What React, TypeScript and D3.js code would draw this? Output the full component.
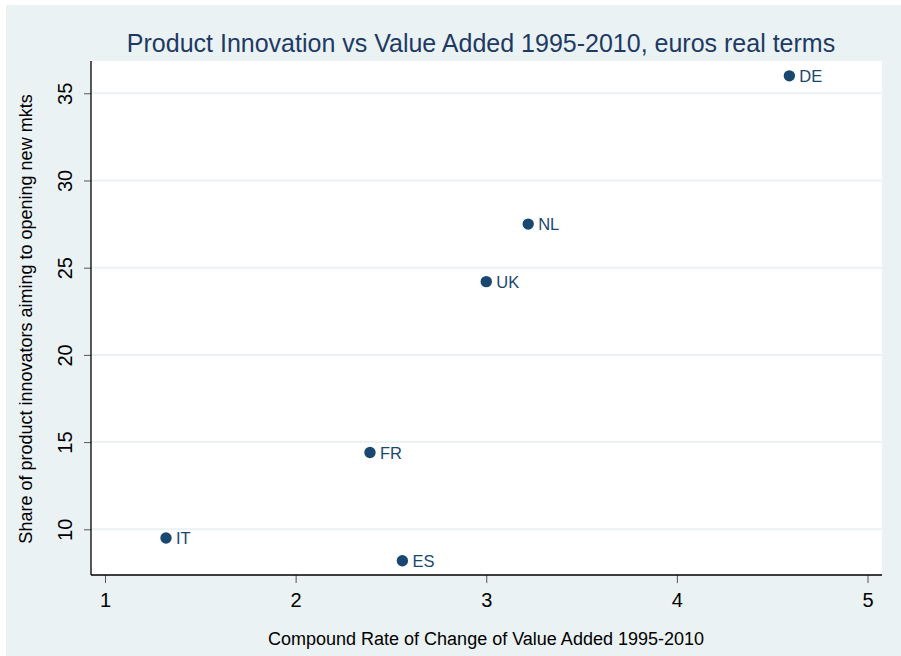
import React, { useEffect, useRef } from "react";
import * as d3 from "d3";

const countries = ["DE", "NL", "UK", "FR", "IT", "ES"];
const valueAdded = [4.59, 3.22, 3.0, 2.39, 1.32, 2.56];
const shareNewMkts = [36.0, 27.5, 24.2, 14.4, 9.5, 8.2];
const xTicks = [1, 2, 3, 4, 5];
const yTicks = [10, 15, 20, 25, 30, 35];

export default function App() {
  const ref = useRef<SVGSVGElement>(null);
  const W = 901;
  const H = 656;
  const plot = { left: 91, top: 61, right: 882, bottom: 575 };

  useEffect(() => {
    const svg = d3.select(ref.current).html(null);

    const x = d3.scaleLinear().domain([0.9265, 5.076]).range([plot.left, plot.right]);
    const y = d3.scaleLinear().domain([7.38, 36.85]).range([plot.bottom, plot.top]);

    svg.append("rect").attr("x", 0).attr("y", 0).attr("width", W).attr("height", H).attr("fill", "#ffffff");
    svg.append("rect").attr("x", 6).attr("y", 5).attr("width", W - 6).attr("height", H - 5).attr("fill", "#eaf2f3");
    svg
      .append("rect")
      .attr("x", plot.left)
      .attr("y", plot.top)
      .attr("width", plot.right - plot.left)
      .attr("height", plot.bottom - plot.top)
      .attr("fill", "#ffffff");

    // grid lines
    svg
      .append("g")
      .selectAll("line")
      .data(yTicks)
      .enter()
      .append("line")
      .attr("x1", plot.left)
      .attr("x2", plot.right)
      .attr("y1", (d) => y(d))
      .attr("y2", (d) => y(d))
      .attr("stroke", "#eaf2f3")
      .attr("stroke-width", 2);

    const font = "Arial, 'Liberation Sans', Helvetica, sans-serif";

    // y axis
    const yAxis = d3.axisLeft(y).tickValues(yTicks).tickSize(7).tickPadding(10).tickFormat(d3.format("d"));
    const gy = svg.append("g").attr("transform", `translate(${plot.left},0)`).call(yAxis);
    gy.select(".domain").remove();
    gy.selectAll(".tick line").attr("stroke", "#555");
    gy.selectAll(".tick text")
      .attr("font-family", font)
      .attr("font-size", 20)
      .attr("fill", "#000")
      .attr("x", 0)
      .attr("dy", 0)
      .attr("text-anchor", "middle")
      .attr("transform", "translate(-19,0) rotate(-90)");

    // x axis
    const xAxis = d3.axisBottom(x).tickValues(xTicks).tickSize(8).tickPadding(10).tickFormat(d3.format("d"));
    const gx = svg.append("g").attr("transform", `translate(0,${plot.bottom})`).call(xAxis);
    gx.select(".domain").remove();
    gx.selectAll(".tick line").attr("stroke", "#555");
    gx.selectAll(".tick text").attr("font-family", font).attr("font-size", 20).attr("fill", "#000");

    // axis lines
    svg
      .append("line")
      .attr("x1", plot.left)
      .attr("x2", plot.left)
      .attr("y1", plot.top)
      .attr("y2", plot.bottom)
      .attr("stroke", "#000")
      .attr("stroke-width", 1.3);
    svg
      .append("line")
      .attr("x1", plot.left)
      .attr("x2", plot.right)
      .attr("y1", plot.bottom)
      .attr("y2", plot.bottom)
      .attr("stroke", "#000")
      .attr("stroke-width", 1.3);

    // points + labels
    const pts = svg.append("g");
    countries.forEach((c, i) => {
      pts
        .append("circle")
        .attr("cx", x(valueAdded[i]))
        .attr("cy", y(shareNewMkts[i]))
        .attr("r", 5.7)
        .attr("fill", "#1a476f");
      pts
        .append("text")
        .attr("x", x(valueAdded[i]) + 10)
        .attr("y", y(shareNewMkts[i]))
        .attr("dy", "0.36em")
        .attr("font-family", font)
        .attr("font-size", 16.5)
        .attr("fill", "#1a476f")
        .text(c);
    });

    // titles
    svg
      .append("text")
      .attr("x", 481)
      .attr("y", 52)
      .attr("text-anchor", "middle")
      .attr("font-family", font)
      .attr("font-size", 25)
      .attr("fill", "#1e3a64")
      .text("Product Innovation vs Value Added 1995-2010, euros real terms");

    svg
      .append("text")
      .attr("x", 486)
      .attr("y", 645)
      .attr("text-anchor", "middle")
      .attr("font-family", font)
      .attr("font-size", 18)
      .attr("fill", "#000")
      .text("Compound Rate of Change of Value Added 1995-2010");

    svg
      .append("text")
      .attr("transform", `translate(32,319) rotate(-90)`)
      .attr("text-anchor", "middle")
      .attr("font-family", font)
      .attr("font-size", 18)
      .attr("fill", "#000")
      .text("Share of product innovators aiming to opening new mkts");
  }, []);

  return (
    <svg
      ref={ref}
      width={W}
      height={H}
      style={{ position: "absolute", left: 0, top: 0, display: "block" }}
    />
  );
}
